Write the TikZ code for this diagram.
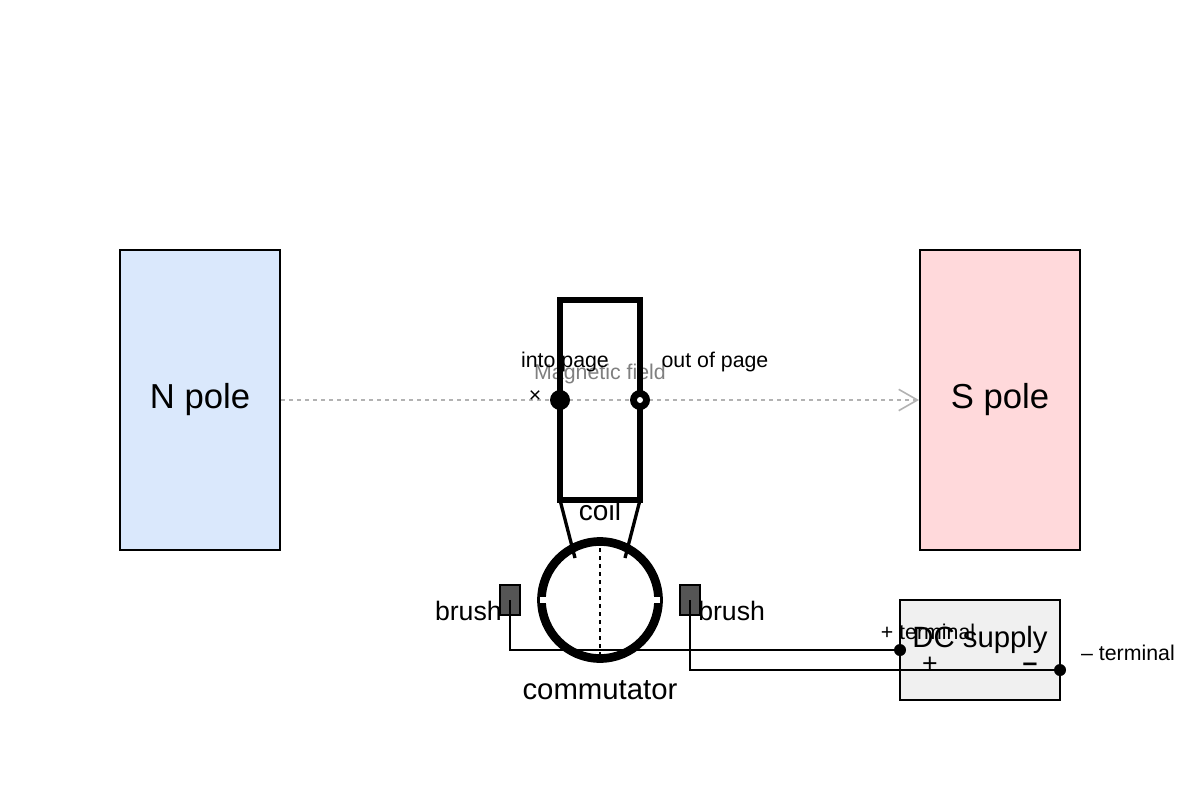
\documentclass[tikz,border=0pt]{standalone}
\usepackage{fontspec}
\setmainfont{Liberation Sans}
\usetikzlibrary{arrows.meta}
\definecolor{npole}{HTML}{DAE8FC}
\definecolor{spole}{HTML}{FFD9DB}
\definecolor{brushgray}{HTML}{555555}
\definecolor{supplygray}{HTML}{F0F0F0}
\begin{document}
\begin{tikzpicture}[x=0.75pt, y=-0.75pt,
	pole/.style={draw, line width=1.5pt, minimum width=120pt, minimum height=225pt, font=\fontsize{26}{30}\selectfont},
	brush/.style={draw, line width=1.1pt, fill=brushgray, minimum width=15pt, minimum height=22.5pt, inner sep=0pt},
	wire/.style={line width=2pt},
	lbl/.style={font=\fontsize{16}{18}\selectfont, inner sep=0pt},
	big/.style={font=\fontsize{20}{24}\selectfont, inner sep=0pt},
	term/.style={circle, fill, inner sep=0pt, minimum size=9pt}]
	\useasboundingbox (0,0) rectangle (1200,800);
	% magnets
	\node[pole, fill=npole] (N) at (200,400) {N pole};
	\node[pole, fill=spole] (S) at (1000,400) {S pole};
	\draw[gray!60, dashed, line width=1.2pt, -{Straight Barb[length=14pt,width=16pt]}] (N.east) -- (S.west);
	\node[lbl, text=gray] (field) at (600,374) {Magnetic field};
	% coil
	\draw[line width=4pt] (560,300) rectangle (640,500);
	\coordinate (cbl) at (560,500);
	\coordinate (cbr) at (640,500);
	\node[circle, fill, inner sep=0pt, minimum size=15pt] (in) at (560,400) {};
	\node[circle, fill, inner sep=0pt, minimum size=15pt] (out) at (640,400) {};
	\node[circle, fill=white, inner sep=0pt, minimum size=4.5pt] at (out) {};
	\node[lbl] (cross) at (535,397) {×};
	\node[lbl] (inlbl) at (565,362) {into page};
	\node[lbl] (outlbl) at (715,362) {out of page};
	\node[font=\fontsize{21}{24}\selectfont, inner sep=0pt] (coil) at (600,510) {coil};
	% brushes and wires
	\node[brush] (bl) at (510,600) {};
	\node[brush] (br) at (690,600) {};
	\node[big, anchor=east] at (502,611) {brush};
	\node[big, anchor=west] at (698,611) {brush};
	% DC supply
	\node[draw, line width=1.5pt, fill=supplygray, minimum width=120pt, minimum height=75pt] (dc) at (980,650) {};
	\node[font=\fontsize{22}{24}\selectfont, inner sep=0pt] (dclbl) at (980,640) {DC supply};
	\node[term] (tp) at (900,650) {};
	\node[term] (tm) at (1060,670) {};
	\draw[wire] (bl.center) |- (tp);
	\draw[wire] (br.center) |- (tm);
	\node[lbl] at (928,632) {+ terminal};
	\node[lbl] at (1128,653) {– terminal};
	\node[big] at (930,665) {+};
	\node[big] at (1030,667) {\textbf{–}};
	% commutator
	\draw[line width=6.5pt] (600,600) circle (58.5);
	\fill[white] (540,597) rectangle (546,603);
	\fill[white] (654,597) rectangle (660,603);
	\draw[dashed, line width=1.2pt] (600,548) -- (600,655);
	\coordinate (c1) at (575,558);
	\coordinate (c2) at (625,558);
	\draw[line width=2.5pt] (cbl) -- (c1);
	\draw[line width=2.5pt] (cbr) -- (c2);
	\node[big, font=\fontsize{22}{24}\selectfont] (comm) at (600,690) {commutator};
\end{tikzpicture}
\end{document}
